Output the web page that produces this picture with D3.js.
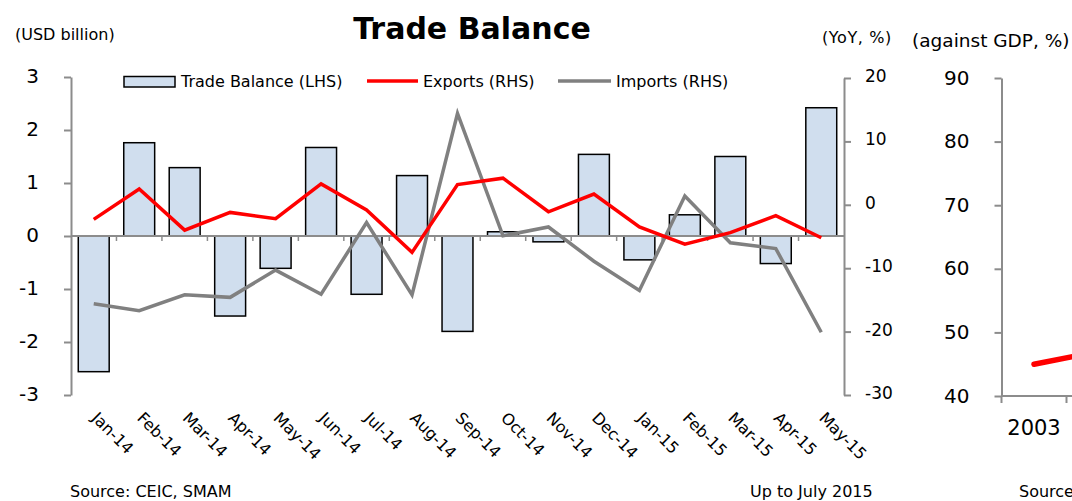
<!DOCTYPE html>
<html>
<head>
<meta charset="utf-8">
<script src="https://cdn.jsdelivr.net/npm/d3@7"></script>
<style>
  body { margin: 0; background: #fff; }
  text { font-family: "DejaVu Sans", Verdana, sans-serif; fill: #000; }
</style>
</head>
<body>
<div id="chart"></div>
<script>
// monthly trade data, Jan-14 .. May-15
const months = ["Jan-14", "Feb-14", "Mar-14", "Apr-14", "May-14", "Jun-14", "Jul-14", "Aug-14",
  "Sep-14", "Oct-14", "Nov-14", "Dec-14", "Jan-15", "Feb-15", "Mar-15", "Apr-15", "May-15"];
const tradeBalance = [-2.56, 1.76, 1.29, -1.51, -0.61, 1.67, -1.10, 1.14,
  -1.80, 0.08, -0.11, 1.54, -0.45, 0.40, 1.50, -0.52, 2.42];
const exportsYoY = [-2.3, 2.5, -4.0, -1.2, -2.2, 3.3, -0.8, -7.5,
  3.2, 4.2, -1.1, 1.7, -3.5, -6.2, -4.4, -1.7, -5.2];
const importsYoY = [-15.6, -16.7, -14.2, -14.6, -10.3, -14.1, -2.8, -14.2,
  14.4, -4.9, -3.5, -8.9, -13.5, 1.4, -6.0, -6.9, -20.1];
const leftTicks = [-3, -2, -1, 0, 1, 2, 3];
const rightTicks = [-30, -20, -10, 0, 10, 20];

// neighbouring chart, only its left edge is visible
const years = ["2003", "2004"];
const gdpRatio = [45.0, 47.0];
const gdpTicks = [40, 50, 60, 70, 80, 90];

const W = 1072, H = 501;
const grey = "#8c8c8c";

const svg = d3.select("#chart").append("svg")
  .attr("width", W)
  .attr("height", H);

const x = d3.scaleBand().domain(months).range([71, 844]);
const yL = d3.scaleLinear().domain([-3, 3]).range([395, 77]);
const yR = d3.scaleLinear().domain([-30, 20]).range([395, 78]);

// titles
svg.append("text")
  .attr("x", 472).attr("y", 39)
  .attr("text-anchor", "middle")
  .style("font-size", "30px").style("font-weight", "bold")
  .text("Trade Balance");
svg.append("text").attr("x", 15).attr("y", 40).style("font-size", "16px").text("(USD billion)");
svg.append("text").attr("x", 822).attr("y", 43).style("font-size", "16px")
  .style("letter-spacing", "0.6px").text("(YoY, %)");
svg.append("text").attr("x", 912).attr("y", 47).style("font-size", "18.5px").text("(against GDP, %)");

// bars
const barW = x.bandwidth() * 0.68;
svg.append("g").selectAll("rect")
  .data(tradeBalance)
  .join("rect")
  .attr("x", (d, i) => x(months[i]) + (x.bandwidth() - barW) / 2)
  .attr("y", d => yL(Math.max(0, d)))
  .attr("width", barW)
  .attr("height", d => Math.abs(yL(d) - yL(0)))
  .attr("fill", "#d0deee")
  .attr("stroke", "#000")
  .attr("stroke-width", 1.5);

// axes
const styleAxis = (g, size) => {
  g.select(".domain").attr("stroke", grey).attr("stroke-width", 2);
  g.selectAll(".tick line").attr("stroke", grey).attr("stroke-width", 2);
  g.selectAll(".tick text").style("font-size", size).attr("fill", "#000");
};

svg.append("g")
  .attr("transform", "translate(71,0)")
  .call(d3.axisLeft(yL).tickValues(leftTicks).tickFormat(d => String(d))
    .tickSize(7).tickSizeOuter(0).tickPadding(25))
  .call(g => styleAxis(g, "20px"))
  .call(g => g.selectAll(".tick text").attr("dy", "0.25em"));

svg.append("g")
  .attr("transform", "translate(844,0)")
  .call(d3.axisRight(yR).tickValues(rightTicks).tickFormat(d => String(d))
    .tickSize(7).tickSizeOuter(0).tickPadding(14))
  .call(g => styleAxis(g, "17px"))
  .call(g => g.selectAll(".tick text").attr("dy", "0.2em"));

// zero line with category ticks
const zeroY = yL(0);
svg.append("line")
  .attr("x1", 71).attr("x2", 844)
  .attr("y1", zeroY).attr("y2", zeroY)
  .attr("stroke", grey).attr("stroke-width", 2);
svg.append("g").selectAll("line")
  .data(months.slice(1))
  .join("line")
  .attr("x1", d => x(d)).attr("x2", d => x(d))
  .attr("y1", zeroY).attr("y2", zeroY + 5)
  .attr("stroke", grey).attr("stroke-width", 1.5);

// rotated month labels
svg.append("g").selectAll("text")
  .data(months)
  .join("text")
  .attr("transform", d => `translate(${x(d) + x.bandwidth() / 2 - 3},${419}) rotate(45)`)
  .style("font-size", "16px")
  .text(d => d);

// lines
const line = d3.line()
  .x((d, i) => x(months[i]) + x.bandwidth() / 2)
  .y(d => yR(d));

svg.append("path")
  .datum(importsYoY)
  .attr("d", line)
  .attr("fill", "none")
  .attr("stroke", "#808080")
  .attr("stroke-width", 3.5);

svg.append("path")
  .datum(exportsYoY)
  .attr("d", line)
  .attr("fill", "none")
  .attr("stroke", "#ff0000")
  .attr("stroke-width", 3.5);

// legend
const legend = svg.append("g").style("font-size", "16px");
legend.append("rect")
  .attr("x", 124).attr("y", 76.5).attr("width", 51).attr("height", 10.5)
  .attr("fill", "#d0deee").attr("stroke", "#000").attr("stroke-width", 1.5);
legend.append("text").attr("x", 181).attr("y", 86.5).text("Trade Balance (LHS)");
legend.append("line")
  .attr("x1", 367).attr("x2", 418).attr("y1", 81).attr("y2", 81)
  .attr("stroke", "#ff0000").attr("stroke-width", 3.5);
legend.append("text").attr("x", 423).attr("y", 86.5).text("Exports (RHS)");
legend.append("line")
  .attr("x1", 558).attr("x2", 611).attr("y1", 81).attr("y2", 81)
  .attr("stroke", "#808080").attr("stroke-width", 3.5);
legend.append("text").attr("x", 616).attr("y", 86.5).text("Imports (RHS)");

// footers
svg.append("text").attr("x", 70).attr("y", 497).style("font-size", "16px").text("Source: CEIC, SMAM");
svg.append("text").attr("x", 750).attr("y", 497).style("font-size", "16px").text("Up to July 2015");
svg.append("text").attr("x", 1019).attr("y", 497).style("font-size", "16px").text("Source");

// neighbouring chart (runs off the right edge)
const x3 = d3.scaleBand().domain(years).range([1001.5, 1001.5 + 65 * years.length]);
const y3 = d3.scaleLinear().domain([40, 90]).range([396, 78]);

svg.append("g")
  .attr("transform", "translate(1001.5,0)")
  .call(d3.axisLeft(y3).tickValues(gdpTicks).tickFormat(d => String(d))
    .tickSize(7).tickSizeOuter(0).tickPadding(25))
  .call(g => styleAxis(g, "20px"))
  .call(g => g.selectAll(".tick text").attr("dy", "0.3em"));

svg.append("line")
  .attr("x1", 1001.5).attr("x2", W)
  .attr("y1", y3(40)).attr("y2", y3(40))
  .attr("stroke", grey).attr("stroke-width", 2);
svg.append("g").selectAll("line")
  .data(years)
  .join("line")
  .attr("x1", d => x3(d)).attr("x2", d => x3(d))
  .attr("y1", y3(40)).attr("y2", y3(40) + 7)
  .attr("stroke", grey).attr("stroke-width", 2);
svg.append("g").selectAll("text")
  .data(years.filter(d => x3(d) + x3.bandwidth() < W))
  .join("text")
  .attr("x", d => x3(d) + x3.bandwidth() / 2)
  .attr("y", 435)
  .attr("text-anchor", "middle")
  .style("font-size", "21px")
  .text(d => d);

svg.append("path")
  .datum(gdpRatio)
  .attr("d", d3.line()
    .x((d, i) => x3(years[i]) + x3.bandwidth() / 2)
    .y(d => y3(d)))
  .attr("fill", "none")
  .attr("stroke", "#ff0000")
  .attr("stroke-width", 5.5)
  .attr("stroke-linecap", "round");
</script>
</body>
</html>
